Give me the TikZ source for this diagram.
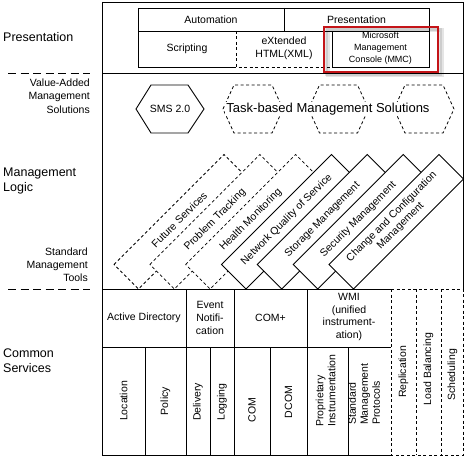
\documentclass[tikz,border=0pt]{standalone}
\usepackage{fontspec}
\setmainfont{Liberation Sans}
\definecolor{redbox}{RGB}{196,20,24}
\begin{document}
\begin{tikzpicture}[x=1pt,y=-1pt,
  ln/.style={line width=0.9pt},
  dl/.style={line width=0.8pt, dash pattern=on 3pt off 2.5pt},
  sepline/.style={line width=0.9pt, dash pattern=on 8pt off 4.5pt},
  big/.style={font=\fontsize{12.5}{15}\selectfont, inner sep=0pt},
  sm/.style={font=\fontsize{10.5}{13}\selectfont, inner sep=0pt},
  tiny/.style={font=\fontsize{9}{12}\selectfont, inner sep=0pt},
  tilt/.style={font=\fontsize{10.5}{12.5}\selectfont, inner sep=0pt, rotate=45},
  vt/.style={font=\fontsize{10.5}{12}\selectfont, inner sep=0pt, rotate=90}]
\fill[white] (0,0) rectangle (469,460);
\useasboundingbox (0,0) rectangle (469,460);

% left labels
\node[big, anchor=west] (lpres) at (3,37) {Presentation};
\draw[sepline] (8,73) -- (90,73);
\node[sm, align=right, anchor=east, font=\fontsize{10.5}{13.5}\selectfont] (lvas) at (90,96) {Value-Added\\Management\\Solutions};
\node[big, align=left, anchor=west] (lml) at (3,181) {Management\\Logic};
\node[sm, align=right, anchor=east] (lsmt) at (88,264.5) {Standard\\Management\\Tools};
\draw[sepline] (8,289) -- (90,289);
\node[big, align=left, anchor=west] (lcs) at (3,361) {Common\\Services};

% presentation box
\draw[ln] (138,8) rectangle (429,31);
\draw[ln] (284,8) -- (284,31);
\draw[ln] (138,31) -- (138,67) -- (236,67);
\draw[dl] (236,31) -- (236,67) -- (332,67);
\draw[ln] (332,31) rectangle (429,67);
\node[sm] (auto) at (211,19.5) {Automation};
\node[sm] (pres) at (356.5,19.5) {Presentation};
\node[sm] (scr) at (187,49) {Scripting};
\node[sm, align=center, font=\fontsize{10.5}{12.5}\selectfont] (xml) at (284,48.5) {eXtended\\HTML(XML)};
\node[tiny, align=center] (mmc) at (380.5,48.5) {Microsoft\\Management\\Console (MMC)};
% highlight
\draw[line width=4pt, black, opacity=0.10] (327.5,30.5) rectangle (441.5,75.5);
\draw[line width=2.5pt, black, opacity=0.10] (326.5,29.5) rectangle (440.5,74.5);
\draw[line width=2.2pt, redbox] (324,27) rectangle (438,72);

% value-added solutions
\draw[ln] (136,109) -- (151,85) -- (188,85) -- (204,109) -- (188,133) -- (151,133) -- cycle;
\node[sm] (sms) at (170,109) {SMS 2.0};
\foreach \c in {253,338.5,424}{
  \draw[dl] (\c-30,109) -- (\c-19,85) -- (\c+19,85) -- (\c+30,109) -- (\c+19,133) -- (\c-19,133) -- cycle;
}
\node[font=\fontsize{13}{15}\selectfont, fill=white, inner sep=1pt] (tbms) at (328,109) {Task-based Management Solutions};

% management tools (tilted)
\foreach \i/\st/\t in {0/dl/{Future Services},1/dl/{Problem Tracking},2/dl/{Health Monitoring},3/ln/{Network Quality of Service},4/ln/{Storage Management},5/ln/{Security Management}}{
  \pgfmathsetmacro\L{114+35.833*\i}
  \draw[\st, fill=white] (\L,264.5) -- ++(110,-110) -- ++(24.5,24.5) -- ++(-110,110) -- cycle;
  \node[tilt] (t\i) at (\L+65.25,219.75) {\t};
}
\draw[ln, fill=white] (329,264.5) -- ++(110,-110) -- ++(24.5,24.5) -- ++(-110,110) -- cycle;
\node[tilt, align=center] (t6) at (396.25,221.5) {Change and Configuration\\Management};

% frame
\draw[ln] (102,2) -- (463,2) -- (463,289);
\draw[ln] (102,2) -- (102,455) -- (391,455);
\draw[ln] (102,73) -- (463,73);
\draw[ln] (102,289) -- (391,289);
\draw[dl] (391,289) -- (463,289) -- (463,455) -- (391,455);
\draw[dl] (391,289) -- (391,455);
\draw[dl] (416,289) -- (416,455);
\draw[dl] (441,289) -- (441,455);

% common services grid
\draw[ln] (102,347) -- (391,347);
\draw[ln] (186,289) -- (186,455);
\draw[ln] (234,289) -- (234,455);
\draw[ln] (307,289) -- (307,455);
\foreach \x in {145,210,270,348}{\draw[ln] (\x,347) -- (\x,455);}

\node[sm] (ad) at (144,318) {Active Directory};
\node[sm, align=center] (ev) at (210,318) {Event\\Notifi-\\cation};
\node[sm] (comp) at (270.5,318) {COM+};
\node[sm, align=center, font=\fontsize{10.5}{12.8}\selectfont] (wmi) at (349,317) {WMI\\(unified\\instrument-\\ation)};

\node[vt] (loc) at (123.5,401) {Location};
\node[vt] (pol) at (165.5,401) {Policy};
\node[vt] (del) at (198,402) {Delivery};
\node[vt] (log) at (222,402) {Logging};
\node[vt] (com) at (252,410) {COM};
\node[vt] (dcom) at (288.5,402) {DCOM};
\node[vt, align=left, anchor=west] (prop) at (325.5,427) {Proprietary\\Instrumentation};
\node[vt, align=left, anchor=west] (smp) at (364,425) {Standard\\Management\\Protocols};
\node[vt] (rep) at (403.5,372) {Replication};
\node[vt] (lb) at (428.5,369) {Load Balancing};
\node[vt] (sch) at (452.5,375) {Scheduling};
\end{tikzpicture}
\end{document}
